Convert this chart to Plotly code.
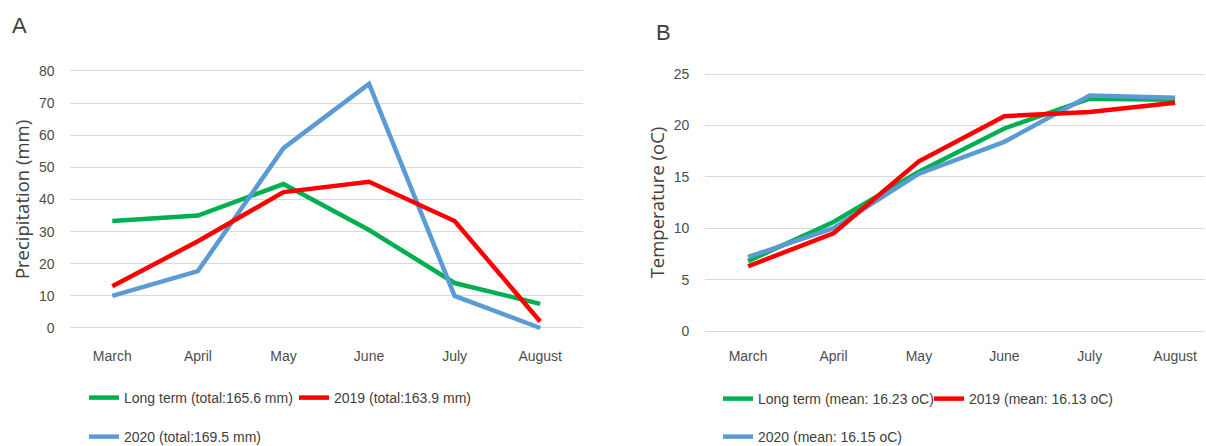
import plotly.graph_objects as go

months = ["March", "April", "May", "June", "July", "August"]

precip_long = [33.3, 35.0, 44.8, 30.5, 14.0, 7.5]
precip_2019 = [13.0, 27.0, 42.3, 45.5, 33.3, 2.0]
precip_2020 = [10.0, 17.7, 56.0, 76.0, 10.0, 0.0]

temp_long = [6.8, 10.6, 15.5, 19.7, 22.6, 22.5]
temp_2019 = [6.3, 9.5, 16.5, 20.9, 21.3, 22.2]
temp_2020 = [7.2, 10.0, 15.3, 18.4, 22.9, 22.7]

names_a = ["Long term (total:165.6 mm)", "2019 (total:163.9 mm)", "2020 (total:169.5 mm)"]
names_b = ["Long term (mean: 16.23 oC)", "2019 (mean: 16.13 oC)", "2020 (mean: 16.15 oC)"]

colors = ["#00B050", "#FF0000", "#5B9BD5"]
W, H = 1206, 446
SANS = "Liberation Sans, Arial, sans-serif"
TXT = "#4D4D4D"

fig = go.Figure()
series_a = [precip_long, precip_2019, precip_2020]
series_b = [temp_long, temp_2019, temp_2020]
order = [0, 2, 1]
for i in order:
    fig.add_trace(go.Scatter(x=months, y=series_a[i], mode="lines", name=names_a[i],
                             line=dict(color=colors[i], width=4.5),
                             xaxis="x", yaxis="y", legend=["legend", "legend2", "legend3"][i]))
for i in order:
    fig.add_trace(go.Scatter(x=months, y=series_b[i], mode="lines", name=names_b[i],
                             line=dict(color=colors[i], width=4.5),
                             xaxis="x2", yaxis="y2", legend=["legend4", "legend5", "legend6"][i]))

def px_x(v):
    return v / W

def px_y(v):
    return 1 - v / H

# Panel A: y 80 at 71px, 0 at 328px
a_scale = (328 - 71) / 80.0
a_lo, a_hi = -1.0, 81.0
a_dom = [px_y(328 - a_lo * a_scale), px_y(328 - a_hi * a_scale)]
# Panel B: 25 at 74px, 0 at 331px
b_scale = (331 - 74) / 25.0
b_lo, b_hi = -0.5, 25.5
b_dom = [px_y(331 - b_lo * b_scale), px_y(331 - b_hi * b_scale)]

grid = "#D9D9D9"
tickfont = dict(family=SANS, size=14, color=TXT)
titlefont = dict(family="Open Sans, sans-serif", size=18.5, color="#404040")

fig.update_layout(
    width=W, height=H,
    margin=dict(l=0, r=0, t=0, b=0, autoexpand=False),
    paper_bgcolor="white", plot_bgcolor="white",
    xaxis=dict(domain=[px_x(69.5), px_x(583)], range=[-0.5, 5.5], showgrid=False,
               showline=False, zeroline=False, ticks="", tickfont=tickfont,
               ticklabelstandoff=15, anchor="y"),
    yaxis=dict(domain=a_dom, range=[a_lo, a_hi], tickvals=[0, 10, 20, 30, 40, 50, 60, 70, 80],
               showgrid=True, gridcolor=grid, gridwidth=1, zeroline=False, showline=False,
               ticks="", tickfont=tickfont, ticklabelstandoff=14, anchor="x",
               title=dict(text="Precipitation (mm)", font=titlefont, standoff=4)),
    xaxis2=dict(domain=[px_x(705.4), px_x(1205)], range=[-0.5, 5.35], showgrid=False,
                showline=False, zeroline=False, ticks="", tickfont=tickfont,
                ticklabelstandoff=10, anchor="y2"),
    yaxis2=dict(domain=b_dom, range=[b_lo, b_hi], tickvals=[0, 5, 10, 15, 20, 25],
                showgrid=True, gridcolor=grid, gridwidth=1, zeroline=False, showline=False,
                ticks="", tickfont=tickfont, ticklabelstandoff=15, anchor="x2",
                title=dict(text="Temperature (oC)", font=titlefont, standoff=4)),
    showlegend=True,
)

legfont = dict(family=SANS, size=14, color="#404040")
leg_pos = {
    "legend": (84, 398), "legend2": (294, 398), "legend3": (84, 437),
    "legend4": (718, 399), "legend5": (929, 399), "legend6": (718, 437),
}
for k, (lx, ly) in leg_pos.items():
    fig.update_layout({k: dict(x=px_x(lx), y=px_y(ly), xanchor="left", yanchor="middle",
                               orientation="h", font=legfont, itemwidth=30,
                               bgcolor="rgba(0,0,0,0)", borderwidth=0)})

fig.add_annotation(text="A", x=px_x(10), y=px_y(26), xref="paper", yref="paper",
                   xanchor="left", yanchor="middle", showarrow=False,
                   font=dict(family=SANS, size=22, color="#404040"))
fig.add_annotation(text="B", x=px_x(654), y=px_y(33), xref="paper", yref="paper",
                   xanchor="left", yanchor="middle", showarrow=False,
                   font=dict(family=SANS, size=22, color="#404040"))

fig.write_html("out.html")
